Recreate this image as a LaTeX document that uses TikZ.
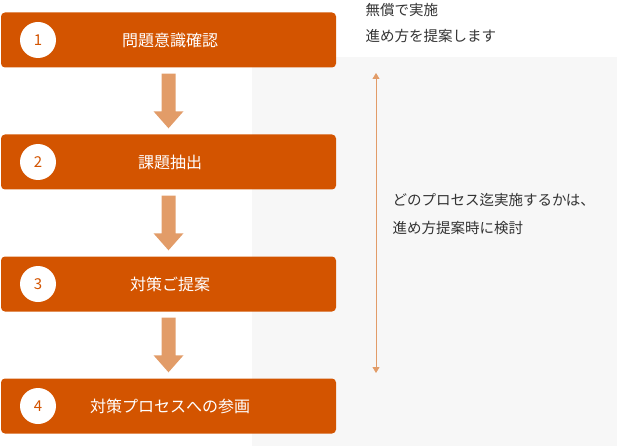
\documentclass[tikz,border=0pt]{standalone}
\usepackage{fontspec}
\setmainfont{Noto Sans CJK JP}
\usetikzlibrary{arrows.meta,calc}
\definecolor{org}{HTML}{D35400}
\definecolor{lorg}{HTML}{E29C68}
\definecolor{bg}{HTML}{F7F7F7}
\tikzset{
  stepbox/.style={fill=org,rounded corners=4pt,minimum width=335pt,minimum height=55pt,inner sep=0pt},
  numc/.style={circle,fill=white,minimum size=36pt,inner sep=0pt,text=org,font=\fontsize{15}{15}\selectfont},
  lbl/.style={text=white,font=\fontsize{16}{16}\selectfont},
  rt/.style={anchor=west,text=black!80,font=\fontsize{14.5}{14.5}\selectfont},
}
\begin{document}
\begin{tikzpicture}[x=1pt,y=-1pt]
\useasboundingbox (0,0) rectangle (617,446);
\fill[bg] (252,57) rectangle (617,446);
\foreach \i/\y/\t in {1/40/問題意識確認,2/162/課題抽出,3/284/対策ご提案,4/406/対策プロセスへの参画}{
  \node[stepbox] (b\i) at (168.5,\y) {};
  \node[numc] (c\i) at (38,\y) {\i};
  \node[lbl] (t\i) at (170,\y) {\t};
}
\foreach \a/\b in {1/2,2/3,3/4}{
  \path (b\a.south) ++(0,6) coordinate (s\a);
  \path (b\b.north) ++(0,-6) coordinate (e\a);
  \fill[lorg] ($(s\a)+(-7,0)$) -- ($(s\a)+(7,0)$) -- ($(e\a)+(7,-17)$) -- ($(e\a)+(15,-17)$) -- (e\a) -- ($(e\a)+(-15,-17)$) -- ($(e\a)+(-7,-17)$) -- cycle;
}
\coordinate (at) at (376,73);
\coordinate (ab) at (376,373);
\draw[lorg,line width=0.8pt,{Triangle[width=7pt,length=6pt]}-{Triangle[width=7pt,length=6pt]}] (at) -- (ab);
\node[rt] (r1) at (362,10) {無償で実施};
\node[rt] (r2) at (362,36) {進め方を提案します};
\node[rt] (r3) at (389,200) {どのプロセス迄実施するかは、};
\node[rt] (r4) at (389,228) {進め方提案時に検討};
\end{tikzpicture}
\end{document}
